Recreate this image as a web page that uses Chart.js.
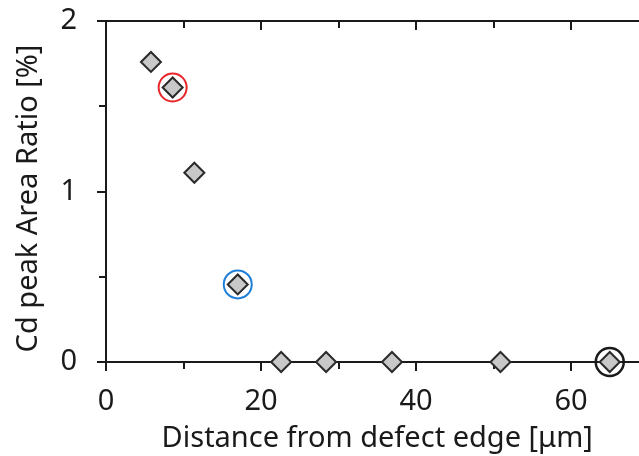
<!DOCTYPE html>
<html>
<head>
<meta charset="utf-8">
<script src="https://cdn.jsdelivr.net/npm/chart.js@4/dist/chart.umd.min.js"></script>
<style>
  html, body { margin: 0; padding: 0; background: #ffffff; overflow: hidden; }
  #wrap { width: 639px; height: 456px; overflow: hidden; }
  canvas { display: block; }
</style>
</head>
<body>
<div id="wrap"><canvas id="c" width="665" height="456" style="width:665px;height:456px"></canvas></div>
<script>
// Distance from the defect edge [µm] and Cd peak area ratio [%]
const distance = [5.8, 8.6, 11.4, 17.0, 22.6, 28.4, 36.9, 50.9, 65.0];
const ratio    = [1.76, 1.61, 1.11, 0.455, 0, 0, 0, 0, 0];

// Highlighted measurement points (index into the arrays above) and their ring colours
const highlightIndex = [1, 3, 8];
const highlightColor = ['#e8262a', '#1f7fd8', '#1a1a1a'];

// Axis ticks
const xMajorTicks = [0, 20, 40, 60];
const xMinorTicks = [10, 30, 50, 70];
const yMajorTicks = [0, 1, 2];
const yMinorTicks = [0.5, 1.5];

const yTitle = 'Cd peak Area Ratio [%]';
const xTitle = 'Distance from defect edge [μm]';

const INK = '#1a1a1a';
const FONT = '"Noto Sans", "Open Sans", sans-serif';
const FONT_SIZE = 29;

const points = distance.map((d, i) => ({ x: d, y: ratio[i] }));

const ringSets = highlightIndex.map((idx, k) => ({
  label: 'ring' + k,
  data: [{ x: distance[idx], y: ratio[idx] }],
  pointStyle: 'circle',
  pointRadius: 14,
  pointHoverRadius: 14,
  backgroundColor: 'rgba(0,0,0,0)',
  borderColor: highlightColor[k],
  pointBorderWidth: k === 2 ? 2.5 : 2,
  showLine: false,
  clip: false,
  order: 2
}));

// Boxed frame with outward ticks on the left/bottom and inward ticks on the top/right
const framePlugin = {
  id: 'frame',
  beforeDatasetsDraw(chart) {
    const { ctx, chartArea: a, scales } = chart;
    const xs = scales.x, ys = scales.y;
    ctx.save();
    ctx.strokeStyle = INK;
    ctx.lineWidth = 2;
    ctx.lineCap = 'butt';
    ctx.beginPath();
    ctx.rect(a.left, a.top, a.right - a.left, a.bottom - a.top);
    ctx.stroke();
    const major = 9, minor = 7;
    ctx.beginPath();
    const xTick = (v, len) => {
      const px = Math.round(xs.getPixelForValue(v));
      ctx.moveTo(px, a.bottom); ctx.lineTo(px, a.bottom + len);
      ctx.moveTo(px, a.top); ctx.lineTo(px, a.top + len);
    };
    const yTick = (v, len) => {
      const py = Math.round(ys.getPixelForValue(v));
      ctx.moveTo(a.left - len, py); ctx.lineTo(a.left, py);
      ctx.moveTo(a.right, py); ctx.lineTo(a.right - len, py);
    };
    xMajorTicks.forEach(v => xTick(v, major));
    xMinorTicks.forEach(v => xTick(v, minor));
    yMajorTicks.forEach(v => yTick(v, major));
    yMinorTicks.forEach(v => yTick(v, minor));
    ctx.stroke();

    // vertical axis title
    ctx.fillStyle = INK;
    ctx.font = FONT_SIZE + 'px ' + FONT;
    ctx.textAlign = 'center';
    ctx.textBaseline = 'middle';
    ctx.translate(29, (a.top + a.bottom) / 2 + 7);
    ctx.rotate(-Math.PI / 2);
    ctx.fillText(yTitle, 0, 0);
    ctx.restore();
  }
};

const noPad = s => { s.paddingTop = 0; s.paddingBottom = 0; s.paddingLeft = 0; s.paddingRight = 0; };

new Chart(document.getElementById('c'), {
  type: 'scatter',
  data: {
    datasets: [
      {
        label: 'Cd',
        data: points,
        pointStyle: 'rectRot',
        pointRadius: 10,
        pointHoverRadius: 10,
        backgroundColor: '#c8c8c8',
        borderColor: '#2a2a2a',
        pointBorderWidth: 2,
        showLine: false,
        clip: false,
        order: 1
      },
      ...ringSets
    ]
  },
  options: {
    responsive: false,
    animation: false,
    events: [],
    layout: { padding: { top: 21, right: 0, left: 0, bottom: 0 } },
    plugins: { legend: { display: false }, tooltip: { enabled: false } },
    scales: {
      x: {
        type: 'linear',
        min: 0, max: 70,
        afterBuildTicks: s => { s.ticks = xMajorTicks.map(v => ({ value: v })); },
        afterFit: s => { s.height = 94; noPad(s); },
        grid: { display: false, drawTicks: false },
        border: { display: false },
        ticks: {
          color: INK, padding: 22, maxRotation: 0,
          font: { family: FONT, size: FONT_SIZE }
        },
        title: {
          display: true, text: xTitle, color: INK,
          font: { family: FONT, size: FONT_SIZE }, padding: { top: 0, bottom: 0 }
        }
      },
      y: {
        type: 'linear',
        min: 0, max: 2,
        afterBuildTicks: s => { s.ticks = yMajorTicks.map(v => ({ value: v })); },
        afterFit: s => { s.width = 106; noPad(s); },
        grid: { display: false, drawTicks: false },
        border: { display: false },
        ticks: {
          color: INK, padding: 29,
          font: { family: FONT, size: FONT_SIZE }
        },
        title: { display: false }
      }
    }
  },
  plugins: [framePlugin]
});
</script>
</body>
</html>
